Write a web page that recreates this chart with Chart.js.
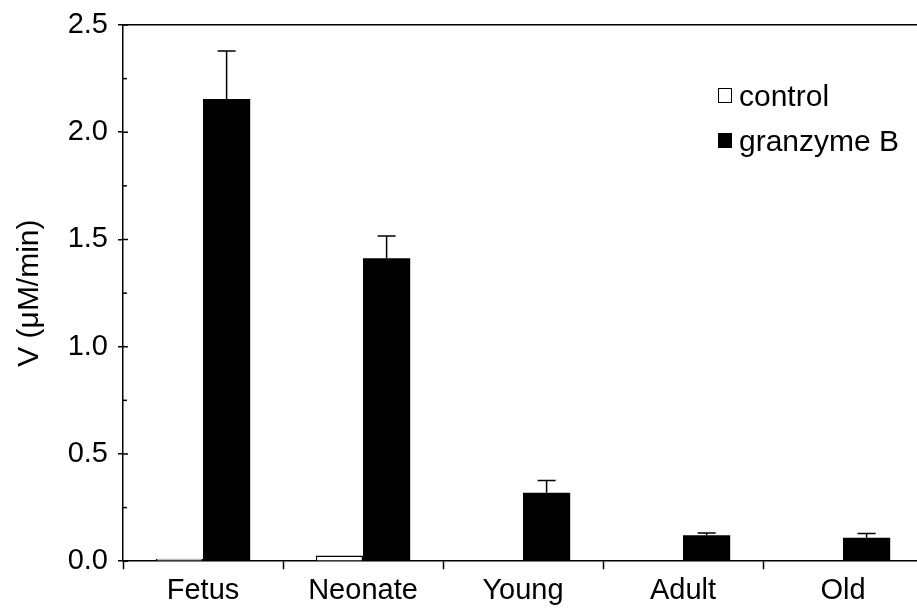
<!DOCTYPE html>
<html>
<head>
<meta charset="utf-8">
<script src="https://cdn.jsdelivr.net/npm/chart.js@4"></script>
<style>
    body { margin: 0; background: #fff; overflow: hidden; }
    #wrap { position: relative; width: 923px; height: 612px; }
    .legend { position: absolute; left: 718px; font: 30px "Liberation Sans", Arial, sans-serif; color: #000; }
    .legend div { display: flex; align-items: center; height: 45px; }
    .legend span.box { display: inline-block; width: 12px; height: 13px; border: 1.5px solid #000; margin-right: 7px; }
</style>
</head>
<body>
<div id="wrap">
    <canvas id="chartVelocidad"></canvas>
    <div class="legend" style="top: 73px;">
        <div><span class="box" style="background:#fff"></span>control</div>
        <div><span class="box" style="background:#000"></span>granzyme B</div>
    </div>
</div>
<script>
const categorias = ["Fetus", "Neonate", "Young", "Adult", "Old"];
const control = [0.012, 0.027, 0, 0, 0];
const granzyme = [2.155, 1.412, 0.319, 0.121, 0.109];
const granzymeErr = [0.224, 0.104, 0.057, 0.011, 0.02];
const ticksY = [0, 0.5, 1.0, 1.5, 2.0, 2.5];

const FUENTE = "'Liberation Sans', Arial, sans-serif";

// barras de error (solo hacia arriba) y marcas internas del eje Y
const errorBars = {
    id: "errorBars",
    afterDatasetsDraw(chart) {
        const meta = chart.getDatasetMeta(1);
        const y = chart.scales.y;
        const c = chart.ctx;
        c.save();
        c.strokeStyle = "#000";
        c.lineWidth = 1.5;
        meta.data.forEach((bar, i) => {
            const top = y.getPixelForValue(granzyme[i] + granzymeErr[i]);
            c.beginPath();
            c.moveTo(bar.x, bar.y);
            c.lineTo(bar.x, top);
            c.moveTo(bar.x - 9, top);
            c.lineTo(bar.x + 9, top);
            c.stroke();
        });
        const left = chart.chartArea.left;
        y.ticks.forEach(t => {
            const py = y.getPixelForValue(t.value);
            const mayor = ticksY.some(v => Math.abs(v - t.value) < 1e-6);
            c.beginPath();
            c.moveTo(left, py);
            c.lineTo(left + (mayor ? 5 : 4), py);
            c.stroke();
        });
        c.restore();
    }
};

const ctx = document.getElementById("chartVelocidad");
new Chart(ctx, {
    type: "bar",
    data: {
        labels: categorias,
        datasets: [{
            label: "control",
            data: control,
            backgroundColor: "#fff",
            borderColor: "#000",
            borderWidth: 1.5,
            barPercentage: 1,
            categoryPercentage: 0.59
        }, {
            label: "granzyme B",
            data: granzyme,
            backgroundColor: "#000",
            borderColor: "#000",
            borderWidth: 0,
            barPercentage: 1,
            categoryPercentage: 0.59
        }]
    },
    options: {
        responsive: true,
        maintainAspectRatio: false,
        animation: false,
        layout: { padding: { top: 25, right: 0, bottom: 0, left: 0 } },
        plugins: {
            legend: { display: false },
            tooltip: { enabled: false }
        },
        scales: {
            x: {
                grid: {
                    offset: true,
                    drawOnChartArea: false,
                    tickLength: 8,
                    tickColor: "#000",
                    tickWidth: 1.5
                },
                border: { color: "#000", width: 1.5 },
                ticks: {
                    padding: 4,
                    color: "#000",
                    font: { family: FUENTE, size: 29 }
                }
            },
            y: {
                min: 0,
                max: 2.5,
                afterFit(scale) {
                    scale.width = 123;
                    scale.paddingTop = 0;
                },
                grid: {
                    drawOnChartArea: true,
                    tickLength: 5,
                    tickWidth: 1.5,
                    lineWidth: 1.5,
                    color: c => (c.tick && Math.abs(c.tick.value - 2.5) < 1e-6 ? "#000" : "rgba(0,0,0,0)"),
                    tickColor: c => (c.tick && ticksY.some(v => Math.abs(v - c.tick.value) < 1e-6) ? "#000" : "rgba(0,0,0,0)")
                },
                border: { color: "#000", width: 1.5 },
                ticks: {
                    stepSize: 0.25,
                    padding: 10,
                    color: "#000",
                    font: { family: FUENTE, size: 29 },
                    callback: v => (ticksY.some(t => Math.abs(t - v) < 1e-6) ? v.toFixed(1) : "")
                },
                title: {
                    display: true,
                    text: "V (μM/min)",
                    color: "#000",
                    padding: { top: 12, bottom: 0 },
                    font: { family: FUENTE, size: 30 }
                }
            }
        }
    },
    plugins: [errorBars]
});
</script>
</body>
</html>
